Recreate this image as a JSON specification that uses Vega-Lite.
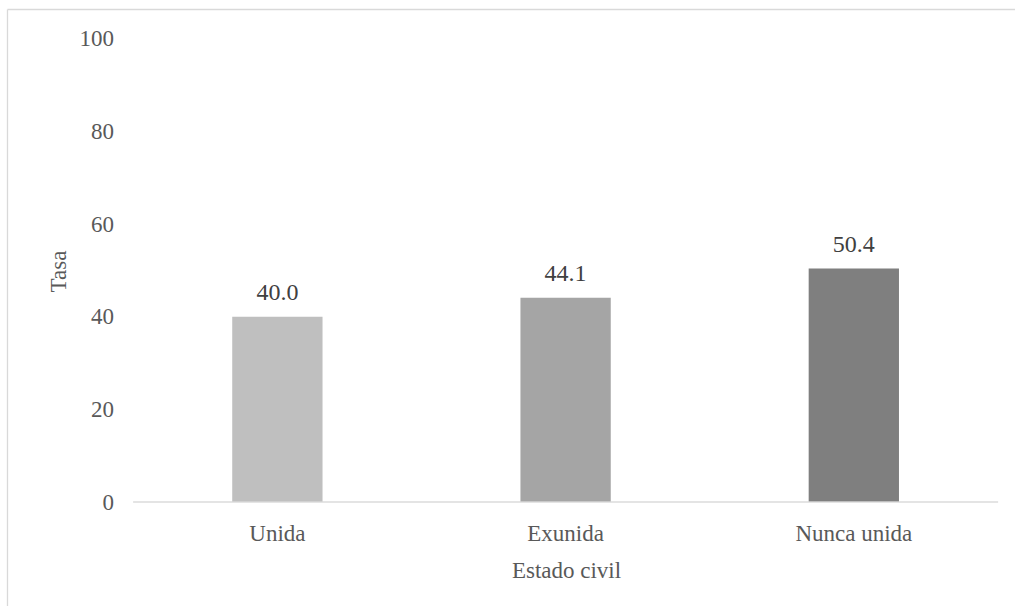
{
  "$schema": "https://vega.github.io/schema/vega-lite/v6.json",
  "width": 1008,
  "height": 597,
  "autosize": {"type": "none"},
  "padding": {"left": 7, "top": 9, "right": 0, "bottom": 0},
  "background": "white",
  "config": {
    "view": {"stroke": null},
    "font": "Liberation Serif, Times New Roman, serif"
  },
  "data": {
    "values": [
      {"estado": "Unida", "tasa": 40.0},
      {"estado": "Exunida", "tasa": 44.1},
      {"estado": "Nunca unida", "tasa": 50.4}
    ]
  },
  "resolve": {
    "scale": {"x": "independent", "y": "independent"},
    "axis": {"x": "independent", "y": "independent"}
  },
  "layer": [
    {
      "encoding": {
        "x": {
          "field": "estado",
          "type": "nominal",
          "scale": {
            "domain": ["Unida", "Exunida", "Nunca unida"],
            "paddingInner": 0.6867,
            "paddingOuter": 0.592,
            "align": 0.66
          },
          "axis": {
            "title": "Estado civil",
            "orient": "bottom",
            "offset": -104,
            "domain": false,
            "ticks": false,
            "tickSize": 0,
            "grid": false,
            "labelAngle": 0,
            "labelPadding": 38,
            "labelBaseline": "alphabetic",
            "labelFont": "Liberation Serif, Times New Roman, serif",
            "labelFontSize": 23,
            "labelColor": "#595959",
            "titleFont": "Liberation Serif, Times New Roman, serif",
            "titleFontSize": 23,
            "titleColor": "#595959",
            "titleFontWeight": "normal",
            "titleX": 559,
            "titleY": 75,
            "titleBaseline": "alphabetic"
          }
        },
        "y": {
          "field": "tasa",
          "type": "quantitative",
          "scale": {"domain": [-22.45, 106.43], "nice": false, "zero": false},
          "axis": {
            "title": "Tasa",
            "orient": "left",
            "values": [0, 20, 40, 60, 80, 100],
            "offset": -106.5,
            "domain": false,
            "ticks": false,
            "tickSize": 0,
            "grid": false,
            "labelPadding": 0,
            "labelFont": "Liberation Serif, Times New Roman, serif",
            "labelFontSize": 23,
            "labelColor": "#595959",
            "titleFont": "Liberation Serif, Times New Roman, serif",
            "titleFontSize": 23,
            "titleColor": "#595959",
            "titleFontWeight": "normal",
            "titleAngle": -90,
            "titleX": -48.5,
            "titleY": 262,
            "titleBaseline": "alphabetic"
          }
        }
      },
      "layer": [
        {
          "mark": {"type": "bar"},
          "encoding": {
            "y2": {"datum": 0},
            "color": {
              "field": "estado",
              "type": "nominal",
              "scale": {
                "domain": ["Unida", "Exunida", "Nunca unida"],
                "range": ["#bfbfbf", "#a5a5a5", "#7f7f7f"]
              },
              "legend": null
            }
          }
        },
        {
          "mark": {
            "type": "text",
            "baseline": "alphabetic",
            "dy": -16.3,
            "font": "Liberation Serif, Times New Roman, serif",
            "fontSize": 24,
            "color": "#404040"
          },
          "encoding": {"text": {"field": "tasa", "type": "quantitative", "format": ".1f"}}
        },
        {
          "data": {"values": [{"base": 0}]},
          "mark": {
            "type": "tick",
            "orient": "horizontal",
            "size": 865,
            "thickness": 2,
            "color": "#d9d9d9"
          },
          "encoding": {
            "x": {"datum": "Exunida"},
            "y": {"field": "base", "type": "quantitative"}
          }
        }
      ]
    },
    {
      "data": {"values": [{"borde": 0}]},
      "mark": {"type": "point", "opacity": 0},
      "encoding": {
        "x": {
          "field": "borde",
          "type": "quantitative",
          "scale": {"domain": [0, 1]},
          "axis": {
            "orient": "top",
            "title": null,
            "labels": false,
            "ticks": false,
            "grid": false,
            "domain": true,
            "domainColor": "#d9d9d9",
            "domainWidth": 1.3
          }
        },
        "y": {
          "field": "borde",
          "type": "quantitative",
          "scale": {"domain": [0, 1]},
          "axis": {
            "orient": "left",
            "title": null,
            "labels": false,
            "ticks": false,
            "grid": false,
            "domain": true,
            "domainColor": "#d9d9d9",
            "domainWidth": 1.3
          }
        }
      }
    }
  ]
}
